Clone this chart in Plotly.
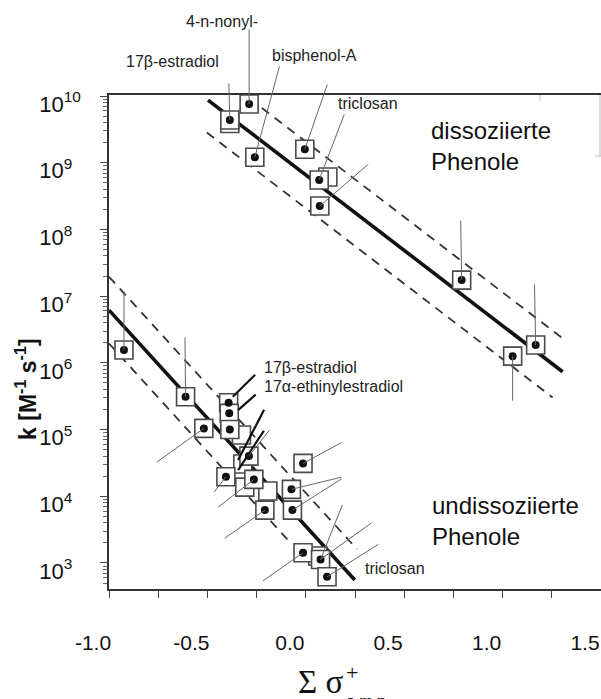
import numpy as np
import plotly.graph_objects as go

# ---------------- data (sigma+ sum, k in M^-1 s^-1) ----------------
# dissociated phenols
dis_sigma = [-0.386, -0.288, -0.259, -0.005, 0.068, 0.071, 0.792, 1.168, 1.051]
dis_k = [4.37e9, 7.59e9, 1.21e9, 1.59e9, 5.5e8, 2.24e8, 1.74e7, 1.85e6, 1.26e6]
dis_tail_sigma = [-0.391, -0.288, -0.132, 0.112, 0.198, 0.325, 0.787, 1.162, 1.051]
dis_tail_k = [1.62e10, 1.05e11, 2.92e10, 1.57e10, 5.56e9, 9.91e8, 1.43e8, 1.57e7, 2.58e5]
dis_back_sigma = [-0.386, 0.112]
dis_back_k = [3.87e9, 6.11e8]

# undissociated phenols
und_sigma = [-0.924, -0.611, -0.518, -0.392, -0.389, -0.386, -0.289, -0.406,
             -0.264, -0.208, -0.014, -0.073, -0.068, -0.014, 0.075, 0.108]
und_k = [1.56e6, 3.1e5, 1.04e5, 2.52e5, 1.75e5, 1.0e5, 4.0e4, 1.96e4,
         1.79e4, 6.2e3, 3.11e4, 1.27e4, 6.2e3, 1.42e3, 1.13e3, 621]
und_tail_idx = [0, 1, 2, 6, 7, 8, 9, 10, 11, 12, 13, 14, 14, 15]
und_tail_sigma = [-0.924, -0.614, -0.766, -0.178, -0.471, -0.453, -0.420,
                  0.189, 0.189, 0.189, -0.225, 0.189, 0.342, 0.376]
und_tail_k = [1.23e7, 2.52e6, 3.11e4, 1.04e5, 1.10e4, 6.59e3, 2.26e3,
              6.56e4, 1.96e4, 1.88e4, 522, 7.83e3, 4.15e3, 1.97e3]
und_back_sigma = [-0.327, -0.320, -0.310, -0.193, 0.061]
und_back_k = [8.28e4, 3.04e4, 1.37e4, 1.20e4, 1.27e3]

# label pointer lines (black)
ptr_sigma0 = [-0.371, -0.344, -0.344, -0.344]
ptr_k0 = [3.11e5, 1.96e5, 3.49e4, 2.47e4]
ptr_sigma1 = [-0.250, -0.247, -0.208, -0.208]
ptr_k1 = [6.97e5, 3.49e5, 2.08e5, 1.01e5]

# regression lines and +/- bands
fit_dis_sigma = [-0.497, 1.305]
fit_dis_k = [8.69e9, 7.36e5]
band_dis_hi_sigma = [-0.223, 1.305]
band_dis_hi_k = [6.6e9, 2.33e6]
band_dis_lo_sigma = [-0.503, 1.254]
band_dis_lo_k = [2.84e9, 3.03e5]
fit_und_sigma = [-1.0, 0.249]
fit_und_k = [6.17e6, 555]
band_und_hi_sigma = [-1.0, 0.26]
band_und_hi_k = [1.95e7, 1.61e3]
band_und_lo_sigma = [-1.0, -0.081]
band_und_lo_k = [1.95e6, 2.05e3]

# text labels
label_text = ["17β-estradiol", "4-n-nonyl-", "bisphenol-A", "triclosan",
              "17β-estradiol", "17α-ethinylestradiol", "triclosan"]
label_sigma = [-0.675, -0.426, 0.043, 0.315, -0.223, -0.223, 0.289]
label_k = [3.24e10, 1.3e11, 3.98e10, 7.59e9, 8.65e5, 4.39e5, 838]
label_anchor = ["center", "center", "center", "center", "left", "left", "left"]

group_text = ["dissoziierte<br>Phenole", "undissoziierte<br>Phenole"]
group_sigma = [0.624, 0.629]
group_k = [1.78e9, 4.25e3]

x_tickvals = [-1.0, -0.5, 0.0, 0.5, 1.0, 1.5]
x_ticktext = ["-1.0", "-0.5", "0.0", "0.5", "1.0", "1.5"]
y_exponents = [3, 4, 5, 6, 7, 8, 9, 10]

# ---------------- figure ----------------
SANS = "Liberation Sans, Arial, Helvetica, sans-serif"
SERIF = "Liberation Serif, Times New Roman, serif"
BOX = dict(symbol="square", size=18, color="white", line=dict(color="#4a4a4a", width=1.6))
Y_RANGE = [2.61, 10.015]


def to_paper_y(k):
    return (np.log10(k) - Y_RANGE[0]) / (Y_RANGE[1] - Y_RANGE[0])


fig = go.Figure()

line_specs = [
    (fit_dis_sigma, fit_dis_k, dict(color="#111", width=3.6)),
    (fit_und_sigma, fit_und_k, dict(color="#111", width=3.6)),
    (band_dis_hi_sigma, band_dis_hi_k, dict(color="#333", width=1.8, dash="9px,7px")),
    (band_dis_lo_sigma, band_dis_lo_k, dict(color="#333", width=1.8, dash="9px,7px")),
    (band_und_hi_sigma, band_und_hi_k, dict(color="#333", width=1.8, dash="9px,7px")),
    (band_und_lo_sigma, band_und_lo_k, dict(color="#333", width=1.8, dash="9px,7px")),
]
for xs, ks, ln in line_specs:
    fig.add_trace(go.Scatter(x=xs, y=ks, mode="lines", line=ln, hoverinfo="skip"))

all_back_x = dis_back_sigma + und_back_sigma
all_back_k = dis_back_k + und_back_k
fig.add_trace(go.Scatter(x=all_back_x, y=all_back_k, mode="markers", marker=BOX,
                         cliponaxis=False, hoverinfo="skip"))
all_x = dis_sigma + und_sigma
all_k = dis_k + und_k
fig.add_trace(go.Scatter(x=all_x, y=all_k, mode="markers", marker=BOX,
                         cliponaxis=False, hoverinfo="skip"))
fig.add_trace(go.Scatter(x=all_x, y=all_k, mode="markers",
                         marker=dict(symbol="circle", size=8, color="#111"),
                         cliponaxis=False, hoverinfo="skip"))

annotations = []


def seg(x0, k0, x1, k1, color, width):
    annotations.append(dict(
        x=x0, y=np.log10(k0), ax=x1, ay=np.log10(k1),
        xref="x", yref="y", axref="x", ayref="y", text="",
        showarrow=True, arrowhead=0, arrowwidth=width, arrowcolor=color,
        standoff=0, startstandoff=0))


for i in range(len(dis_sigma)):
    seg(dis_sigma[i], dis_k[i], dis_tail_sigma[i], dis_tail_k[i], "#666", 1)
for j, i in enumerate(und_tail_idx):
    seg(und_sigma[i], und_k[i], und_tail_sigma[j], und_tail_k[j], "#666", 1)
for j in range(len(ptr_sigma0)):
    seg(ptr_sigma0[j], ptr_k0[j], ptr_sigma1[j], ptr_k1[j], "#111", 2.2)

for t, s, k, a in zip(label_text, label_sigma, label_k, label_anchor):
    annotations.append(dict(x=s, y=to_paper_y(k), xref="x", yref="paper", text=t,
                            showarrow=False, xanchor=a, yanchor="middle",
                            font=dict(family=SANS, size=16, color="#222")))
for t, s, k in zip(group_text, group_sigma, group_k):
    annotations.append(dict(x=s, y=to_paper_y(k), xref="x", yref="paper", text=t,
                            showarrow=False, xanchor="left", yanchor="middle", align="left",
                            font=dict(family=SANS, size=24, color="#111")))

# axis titles
annotations.append(dict(x=-0.1687, y=0.405, xref="paper", yref="paper",
                        text="<b>k [M<sup>-1</sup> s<sup>-1</sup>]</b>", textangle=-90,
                        showarrow=False, xanchor="center", yanchor="middle",
                        font=dict(family=SANS, size=23, color="#111")))
annotations.append(dict(x=0.381, y=-0.188, xref="paper", yref="paper", text="Σ σ",
                        showarrow=False, xanchor="left", yanchor="middle",
                        font=dict(family=SERIF, size=33, color="#111")))
annotations.append(dict(x=0.4929, y=-0.169, xref="paper", yref="paper", text="+",
                        showarrow=False, xanchor="center", yanchor="middle",
                        font=dict(family=SERIF, size=22, color="#111")))
annotations.append(dict(x=0.522, y=-0.226, xref="paper", yref="paper", text="<b>o,m,p</b>",
                        showarrow=False, xanchor="center", yanchor="middle",
                        font=dict(family=SANS, size=15, color="#111")))

shapes = [
    dict(type="line", xref="paper", yref="paper", x0=0.998, x1=0.998, y0=1.0, y1=0.8765,
         line=dict(color="#bbbbbb", width=1)),
    dict(type="line", xref="paper", yref="paper", x0=0.876, x1=0.876, y0=1.0, y1=0.988,
         line=dict(color="#bbbbbb", width=1)),
    dict(type="line", xref="paper", yref="paper", x0=0.988, x1=1.0, y0=0.8765, y1=0.8765,
         line=dict(color="#bbbbbb", width=1)),
]

y_tickvals = [10.0 ** e for e in y_exponents]
y_ticktext = ["10<sup>%d%s</sup>" % (e, "" if e >= 10 else "\u2007") for e in y_exponents]
y_minor = [m * 10.0 ** e for e in range(2, 10) for m in range(2, 10)]

fig.update_layout(
    width=601, height=699,
    margin=dict(l=109, r=0, t=95, b=110),
    paper_bgcolor="white", plot_bgcolor="white",
    showlegend=False,
    annotations=annotations,
    shapes=shapes,
    xaxis=dict(range=[-1.0, 1.5], showgrid=False, zeroline=False,
               showline=True, linecolor="#333", linewidth=1.5, mirror=True,
               ticks="outside", ticklen=7, tickwidth=1.2, tickcolor="#444",
               tickmode="array", tickvals=x_tickvals, ticktext=x_ticktext,
               minor=dict(tickmode="linear", tick0=-1.0, dtick=0.25, ticks="outside",
                          ticklen=7, tickwidth=1.2, tickcolor="#444"),
               tickfont=dict(family=SANS, size=21, color="#111"),
               ticklabeloverflow="allow",
               ticklabelshift=-16, ticklabelstandoff=27, automargin=False),
    yaxis=dict(type="log", range=Y_RANGE, showgrid=False, zeroline=False,
               showline=True, linecolor="#333", linewidth=1.5, mirror=False,
               ticks="outside", ticklen=7, tickwidth=1.2, tickcolor="#444",
               tickmode="array", tickvals=y_tickvals, ticktext=y_ticktext,
               minor=dict(tickmode="array", tickvals=y_minor, ticks="outside",
                          ticklen=4, tickwidth=1, tickcolor="#666"),
               tickfont=dict(family=SANS, size=22, color="#111"),
               ticklabeloverflow="allow",
               ticklabelshift=8, ticklabelstandoff=15, automargin=False),
)

fig.write_html("out.html")
